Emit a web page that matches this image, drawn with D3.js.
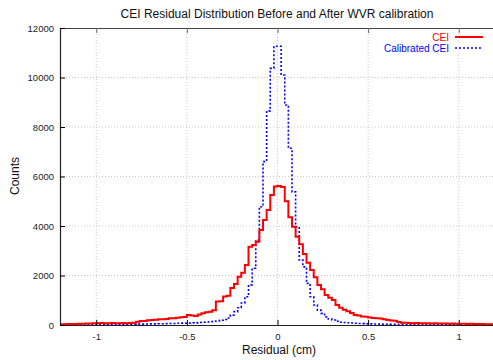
<!DOCTYPE html>
<html>
<head>
<meta charset="utf-8">
<script src="https://cdn.jsdelivr.net/npm/d3@7"></script>
<style>
  body { margin: 0; background: #fff; }
  svg { display: block; font-family: "Liberation Sans", Arial, sans-serif; }
</style>
</head>
<body>
<svg></svg>
<script>
//histogram bins: left edges from -1.2 to 1.18, 0.02 cm wide
let binStart = -1.2;
let binWidth = 0.02;

//counts per bin, before calibration (CEI)
let ceiCounts = [
  30, 30, 40, 40, 45, 50, 55, 60, 60, 70,
  75, 80, 70, 75, 80, 70, 75, 80, 70, 85,
  90, 130, 160, 160, 190, 200, 210, 230, 230, 240,
  270, 270, 290, 310, 320, 400, 380, 360, 420, 470,
  520, 540, 600, 950, 960, 1150, 1180, 1500, 1660, 1950,
  2110, 2420, 3160, 3230, 3365, 3840, 4240, 4650, 5250, 5600,
  5620, 5580, 5000, 4350, 3970, 3570, 3260, 2870, 2520, 2220,
  1930, 1620, 1440, 1210, 1100, 1010, 810, 700, 620, 560,
  480, 400, 380, 340, 330, 300, 280, 270, 260, 230,
  200, 180, 175, 120, 95, 90, 80, 75, 80, 70,
  75, 70, 65, 70, 60, 65, 60, 55, 60, 50,
  55, 50, 45, 50, 40, 45, 40, 35, 35, 30
];

//counts per bin, after WVR calibration
let calCounts = [
  10, 10, 10, 15, 10, 15, 10, 15, 15, 20,
  15, 20, 20, 15, 20, 25, 20, 25, 30, 30,
  30, 35, 35, 40, 40, 45, 45, 50, 50, 55,
  60, 60, 70, 75, 70, 80, 90, 85, 100, 110,
  120, 130, 150, 160, 190, 220, 280, 400, 540, 700,
  890, 1140, 1620, 2290, 3430, 4780, 6600, 8650, 10370, 11260,
  11260, 10100, 8890, 7140, 5380, 3970, 2630, 2350, 1680, 1140,
  810, 600, 470, 330, 240, 200, 150, 110, 100, 90,
  80, 70, 60, 55, 50, 45, 40, 40, 35, 30,
  30, 25, 25, 20, 20, 20, 15, 15, 15, 15,
  10, 15, 10, 10, 15, 10, 10, 15, 10, 10,
  10, 10, 15, 10, 10, 10, 10, 10, 10, 10
];

//axis ticks
let xTicks = [-1, -0.5, 0, 0.5, 1];
let yTicks = [0, 2000, 4000, 6000, 8000, 10000, 12000];

let seriesNames = ['CEI', 'Calibrated CEI'];
let seriesColors = ['#ff0000', '#0000ff'];

let svg = d3.select('svg');
let width = 493;
let height = 360;
let plotLeft = 60, plotRight = 495, plotTop = 28, plotBottom = 325;

svg.attr('width', width).attr('height', height);

let xScale = d3.scaleLinear().domain([-1.2, 1.2]).range([plotLeft, plotRight]);
let yScale = d3.scaleLinear().domain([0, 12000]).range([plotBottom, plotTop]);

//grid
let grid = svg.append('g');
grid.selectAll('.vg').data(xTicks).enter().append('line')
  .attr('x1', d => xScale(d)).attr('x2', d => xScale(d))
  .attr('y1', plotTop).attr('y2', plotBottom)
  .attr('stroke', '#c8c8c8').attr('stroke-width', 1).attr('stroke-dasharray', '1,2');
grid.selectAll('.hg').data(yTicks.slice(1, -1)).enter().append('line')
  .attr('x1', plotLeft).attr('x2', plotRight)
  .attr('y1', d => yScale(d)).attr('y2', d => yScale(d))
  .attr('stroke', '#c8c8c8').attr('stroke-width', 1).attr('stroke-dasharray', '1,2');

//histograms drawn as steps
let makeSteps = counts => {
  let pts = counts.map((c, i) => [binStart + i * binWidth, c]);
  pts.push([binStart + counts.length * binWidth, counts[counts.length - 1]]);
  return pts;
};
let line = d3.line()
  .x(d => xScale(d[0]))
  .y(d => yScale(d[1]))
  .curve(d3.curveStepAfter);

svg.append('path')
  .attr('d', line(makeSteps(calCounts)))
  .attr('fill', 'none')
  .attr('stroke', seriesColors[1])
  .attr('stroke-width', 1.6)
  .attr('stroke-dasharray', '2,2');

svg.append('path')
  .attr('d', line(makeSteps(ceiCounts)))
  .attr('fill', 'none')
  .attr('stroke', seriesColors[0])
  .attr('stroke-width', 2);

//axes
let fmtX = d => d === 0 ? '0' : String(d);
svg.append('g')
  .attr('transform', 'translate(0,' + plotBottom + ')')
  .call(d3.axisBottom(xScale).tickValues(xTicks).tickFormat(fmtX).tickSizeInner(-5).tickSizeOuter(0).tickPadding(8))
  .call(g => g.selectAll('text').attr('font-size', 9.5).attr('fill', '#222').attr('font-family', 'Liberation Sans, Arial, sans-serif'))
  .call(g => g.select('.domain').attr('stroke', '#222').attr('stroke-width', 1.2));

svg.append('g')
  .attr('transform', 'translate(0,' + plotTop + ')')
  .call(d3.axisTop(xScale).tickValues(xTicks).tickFormat('').tickSizeInner(-5).tickSizeOuter(0))
  .call(g => g.select('.domain').attr('stroke', '#444').attr('stroke-width', 1.2))
  .call(g => g.selectAll('line').attr('stroke', '#666'));

svg.append('g')
  .attr('transform', 'translate(' + plotLeft + ',0)')
  .call(d3.axisLeft(yScale).tickValues(yTicks).tickFormat(d3.format('d')).tickSizeInner(-5).tickSizeOuter(0).tickPadding(6))
  .call(g => g.selectAll('text').attr('font-size', 9.5).attr('fill', '#222').attr('font-family', 'Liberation Sans, Arial, sans-serif'))
  .call(g => g.select('.domain').attr('stroke', '#222').attr('stroke-width', 1.2));

//titles
svg.append('text')
  .attr('x', 277).attr('y', 18)
  .attr('text-anchor', 'middle')
  .attr('font-size', 12)
  .attr('fill', '#111')
  .text('CEI Residual Distribution Before and After WVR calibration');

svg.append('text')
  .attr('x', 279).attr('y', 354)
  .attr('text-anchor', 'middle')
  .attr('font-size', 12)
  .attr('fill', '#111')
  .text('Residual (cm)');

svg.append('text')
  .attr('transform', 'translate(19,176) rotate(-90)')
  .attr('text-anchor', 'middle')
  .attr('font-size', 12)
  .attr('fill', '#111')
  .text('Counts');

//legend
let legend = svg.append('g');
seriesNames.forEach((name, i) => {
  let y = 37 + i * 11;
  legend.append('text')
    .attr('x', 449).attr('y', y + 3.5)
    .attr('text-anchor', 'end')
    .attr('font-size', 10)
    .attr('fill', seriesColors[i])
    .text(name);
  legend.append('line')
    .attr('x1', 455).attr('x2', 483)
    .attr('y1', y).attr('y2', y)
    .attr('stroke', seriesColors[i])
    .attr('stroke-width', i === 0 ? 2 : 1.6)
    .attr('stroke-dasharray', i === 0 ? null : '2,2');
});
</script>
</body>
</html>
